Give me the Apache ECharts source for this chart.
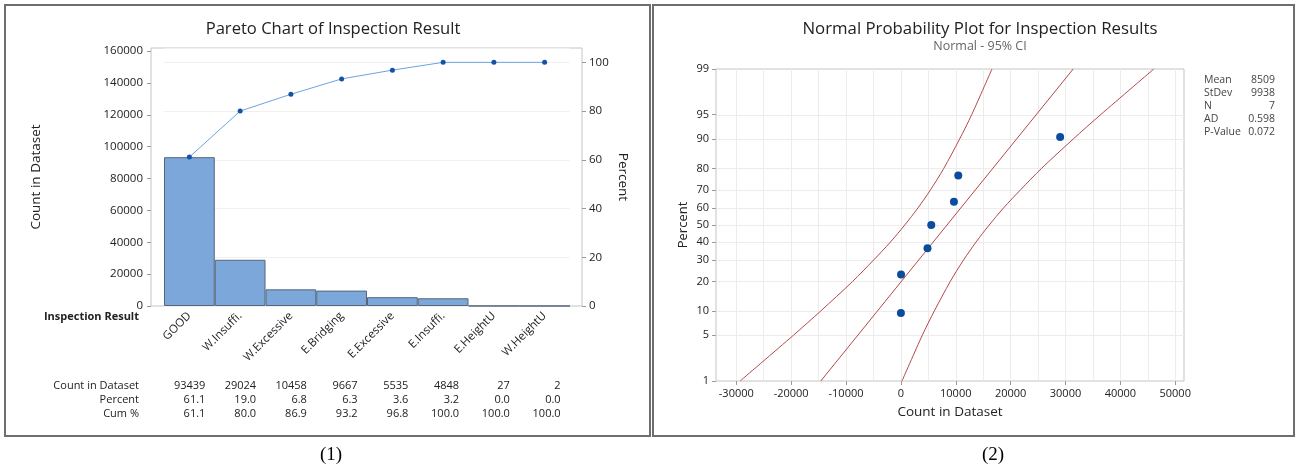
<!doctype html>
<html>
<head>
<meta charset="utf-8">
<title>Inspection Result</title>
<script src="https://cdn.jsdelivr.net/npm/echarts@6/dist/echarts.min.js"></script>
<style>
  html, body { margin: 0; padding: 0; background: #fff; }
  #main { width: 1297px; height: 467px; }
</style>
</head>
<body>
<div id="main"></div>
<script>
// Pareto data
var categories = ['GOOD', 'W.Insuffi.', 'W.Excessive', 'E.Bridging', 'E.Excessive', 'E.Insuffi.', 'E.HeightU', 'W.HeightU'];
var counts = [93439, 29024, 10458, 9667, 5535, 4848, 27, 2];
var percents = ['61.1', '19.0', '6.8', '6.3', '3.6', '3.2', '0.0', '0.0'];
var cumPercents = [61.1, 80.0, 86.9, 93.2, 96.8, 100.0, 100.0, 100.0];
var tableRows = ['Count in Dataset', 'Percent', 'Cum %'];

// normal probability plot data
var probX = [2, 27, 4848, 5535, 9667, 10458, 29024];
var probPct = [9.5, 23.0, 36.5, 50.0, 63.5, 77.0, 90.5];
var fitX = [-14600, 31400];
var fitPct = [1, 99];
var ciPct = [1, 5, 10, 20, 30, 40, 50, 60, 70, 80, 90, 95, 99];
var ciLower = [-29300, -19600, -14600, -8800, -5000, -1900, 700, 3100, 5400, 7800, 10700, 12900, 16600];
var ciUpper = [200, 3900, 6100, 9000, 11400, 13700, 16100, 18700, 21800, 25600, 31400, 36400, 46100];
var pctTicks = [1, 5, 10, 20, 30, 40, 50, 60, 70, 80, 90, 95, 99];
var xTicks = [-30000, -20000, -10000, 0, 10000, 20000, 30000, 40000, 50000];
var statNames = ['Mean', 'StDev', 'N', 'AD', 'P-Value'];
var statValues = ['8509', '9938', '7', '0.598', '0.072'];

var FONT = '"Open Sans", "Noto Sans", sans-serif';
var TXT = '#222';
var RED = '#b5484a';

// inverse normal cdf, used as the probability axis scale
function probit(p) {
  var a = [-39.69683028665376, 220.9460984245205, -275.9285104469687, 138.3577518672690, -30.66479806614716, 2.506628277459239];
  var b = [-54.47609879822406, 161.5858368580409, -155.6989798598866, 66.80131188771972, -13.28068155288572];
  var c = [-0.007784894002430293, -0.3223964580411365, -2.400758277161838, -2.549732539343734, 4.374664141464968, 2.938163982698783];
  var d = [0.007784695709041462, 0.3224671290700398, 2.445134137142996, 3.754408661907416];
  var pl = 0.02425, q, r;
  if (p < pl) {
    q = Math.sqrt(-2 * Math.log(p));
    return (((((c[0] * q + c[1]) * q + c[2]) * q + c[3]) * q + c[4]) * q + c[5]) / ((((d[0] * q + d[1]) * q + d[2]) * q + d[3]) * q + 1);
  }
  if (p > 1 - pl) {
    q = Math.sqrt(-2 * Math.log(1 - p));
    return -(((((c[0] * q + c[1]) * q + c[2]) * q + c[3]) * q + c[4]) * q + c[5]) / ((((d[0] * q + d[1]) * q + d[2]) * q + d[3]) * q + 1);
  }
  q = p - 0.5;
  r = q * q;
  return (((((a[0] * r + a[1]) * r + a[2]) * r + a[3]) * r + a[4]) * r + a[5]) * q / (((((b[0] * r + b[1]) * r + b[2]) * r + b[3]) * r + b[4]) * r + 1);
}
function z(pct) { return probit(pct / 100); }
function pairs(xs, ps) {
  return xs.map(function (x, i) { return [x, z(ps[i])]; });
}
function plain(v) { return String(v); }

var total = counts.reduce(function (s, v) { return s + v; }, 0);
var countMax = 162000;
var pctMax = countMax / total * 100;

// table rows under the pareto chart (row titles are drawn as graphic text)
function tableAxis(values, offset) {
  return {
    type: 'category', gridIndex: 0, position: 'bottom', offset: offset,
    data: values,
    axisLine: { show: false, onZero: false }, axisTick: { show: false },
    axisLabel: {
      interval: 0, margin: 0, verticalAlign: 'middle', fontSize: 11, color: TXT, fontFamily: FONT,
      formatter: function (v) { return '{v|' + v + '}'; },
      rich: { v: { width: 32, align: 'right', fontSize: 11, color: TXT, fontFamily: FONT } }
    }
  };
}

var gridX = [];
xTicks.forEach(function (t) { gridX.push(t); if (t < 50000) gridX.push(t + 5000); });
var gridLines = gridX.map(function (v) { return { xAxis: v }; })
  .concat(pctTicks.map(function (p) { return { yAxis: z(p) }; }));

var chart = echarts.init(document.getElementById('main'));
chart.setOption({
  animation: false,
  textStyle: { fontFamily: FONT },
  title: [
    { text: 'Pareto Chart of Inspection Result', left: 328, top: 16, textAlign: 'center',
      textStyle: { fontSize: 16.6, fontWeight: 'normal', color: '#222', fontFamily: FONT } },
    { text: 'Normal Probability Plot for Inspection Results', subtext: 'Normal - 95% CI',
      left: 975, top: 16, textAlign: 'center', itemGap: 2,
      textStyle: { fontSize: 16.8, fontWeight: 'normal', color: '#222', fontFamily: FONT },
      subtextStyle: { fontSize: 12.5, color: '#666', fontFamily: FONT } }
  ],
  grid: [
    { left: 164, width: 406, top: 48, height: 258 },
    { left: 151, width: 431, top: 48, height: 258, show: true, borderColor: '#c4c4c4', borderWidth: 1 },
    { left: 716, width: 468, top: 69, height: 312, show: true, borderColor: '#c4c4c4', borderWidth: 1 }
  ],
  xAxis: [
    {
      type: 'category', gridIndex: 0, data: categories,
      name: 'Inspection Result', nameLocation: 'start', nameGap: 25, nameMoveOverlap: false,
      nameTextStyle: { color: TXT, fontSize: 11, fontWeight: 'bold', fontFamily: FONT, verticalAlign: 'top', padding: [5, 0, 0, 0] },
      axisLine: { show: false, onZero: false },
      axisTick: { alignWithLabel: true, length: 4, lineStyle: { color: '#999' } },
      axisLabel: { interval: 0, rotate: 45, margin: 8, fontSize: 11.5, color: TXT, fontFamily: FONT }
    },
    tableAxis(counts, 80),
    tableAxis(percents, 94),
    tableAxis(cumPercents.map(function (v) { return v.toFixed(1); }), 108),
    { type: 'value', gridIndex: 1, show: false, min: 0, max: 1 },
    {
      type: 'value', gridIndex: 2, min: -33700, max: 51600,
      name: 'Count in Dataset', nameLocation: 'middle', nameGap: 24, nameMoveOverlap: false,
      nameTextStyle: { color: TXT, fontSize: 13.5, fontFamily: FONT },
      axisLine: { show: false, onZero: false },
      axisTick: { customValues: xTicks, length: 4, lineStyle: { color: '#999' } },
      axisLabel: { customValues: xTicks, formatter: plain, fontSize: 11, color: TXT, fontFamily: FONT, margin: 7 },
      splitLine: { show: false }
    }
  ],
  yAxis: [
    {
      type: 'value', gridIndex: 0, min: 0, max: countMax, interval: 20000, offset: 13,
      name: 'Count in Dataset', nameLocation: 'middle', nameGap: 108, nameMoveOverlap: false,
      nameTextStyle: { color: TXT, fontSize: 13.5, fontFamily: FONT },
      axisLine: { show: false, onZero: false },
      axisTick: { show: true, length: 4, lineStyle: { color: '#999' } },
      axisLabel: { showMaxLabel: false, formatter: plain, fontSize: 11.5, color: TXT, fontFamily: FONT, margin: 8 },
      splitLine: { show: false }
    },
    {
      type: 'value', gridIndex: 0, position: 'right', min: 0, max: pctMax, interval: 20, offset: 12,
      name: 'Percent', nameLocation: 'middle', nameGap: 34, nameRotate: -90, nameMoveOverlap: false,
      nameTextStyle: { color: TXT, fontSize: 13.5, fontFamily: FONT },
      axisLine: { show: false, onZero: false },
      axisTick: { show: true, length: 4, lineStyle: { color: '#999' } },
      axisLabel: { showMaxLabel: false, fontSize: 11.5, color: TXT, fontFamily: FONT, margin: 7 },
      splitLine: { show: true, lineStyle: { color: '#f0f0f0' } }
    },
    { type: 'value', gridIndex: 1, show: false, min: 0, max: 1 },
    {
      type: 'value', gridIndex: 2, min: z(1), max: z(99),
      name: 'Percent', nameLocation: 'middle', nameGap: 26, nameMoveOverlap: false,
      nameTextStyle: { color: TXT, fontSize: 13, fontFamily: FONT },
      axisLine: { show: false, onZero: false },
      axisTick: { customValues: pctTicks.map(z), length: 4, lineStyle: { color: '#999' } },
      axisLabel: {
        customValues: pctTicks.map(z), fontSize: 11, color: TXT, fontFamily: FONT, margin: 7,
        formatter: function (v) {
          for (var i = 0; i < pctTicks.length; i++) {
            if (Math.abs(z(pctTicks[i]) - v) < 1e-6) return String(pctTicks[i]);
          }
          return '';
        }
      },
      splitLine: { show: false }
    }
  ],
  series: [
    {
      type: 'bar', xAxisIndex: 0, yAxisIndex: 0, data: counts,
      barCategoryGap: '0%',
      itemStyle: { color: '#7ba7da', borderColor: '#56657a', borderWidth: 1 }
    },
    {
      type: 'line', xAxisIndex: 0, yAxisIndex: 1, data: cumPercents,
      symbol: 'circle', symbolSize: 5,
      lineStyle: { color: '#6aa3df', width: 1 },
      itemStyle: { color: '#1552a5' }
    },
    {
      type: 'line', xAxisIndex: 5, yAxisIndex: 3, data: [], z: 0, silent: true,
      markLine: {
        silent: true, z: 0, symbol: 'none', label: { show: false },
        lineStyle: { color: '#ececec', width: 1, type: 'solid' },
        emphasis: { disabled: true },
        data: gridLines
      }
    },
    {
      type: 'line', xAxisIndex: 5, yAxisIndex: 3, data: pairs(ciLower, ciPct), z: 3,
      smooth: 0.3, symbol: 'none', lineStyle: { color: RED, width: 1 }
    },
    {
      type: 'line', xAxisIndex: 5, yAxisIndex: 3, data: pairs(fitX, fitPct), z: 3,
      symbol: 'none', lineStyle: { color: RED, width: 1 }
    },
    {
      type: 'line', xAxisIndex: 5, yAxisIndex: 3, data: pairs(ciUpper, ciPct), z: 3,
      smooth: 0.3, symbol: 'none', lineStyle: { color: RED, width: 1 }
    },
    {
      type: 'scatter', xAxisIndex: 5, yAxisIndex: 3, data: pairs(probX, probPct),
      symbolSize: 8, itemStyle: { color: '#0b4d9c', opacity: 1 }, z: 5
    }
  ],
  graphic: [
    { type: 'rect', shape: { x: 5, y: 5, width: 645, height: 431 }, style: { fill: 'none', stroke: '#6e6e6e', lineWidth: 2 } },
    { type: 'rect', shape: { x: 653, y: 5, width: 641, height: 431 }, style: { fill: 'none', stroke: '#6e6e6e', lineWidth: 2 } },
    { type: 'text', x: 331, y: 455, style: { text: '(1)', fontSize: 19, fontFamily: '"Liberation Serif", serif', fill: '#000', align: 'center', verticalAlign: 'middle' } },
    { type: 'text', x: 993, y: 455, style: { text: '(2)', fontSize: 19, fontFamily: '"Liberation Serif", serif', fill: '#000', align: 'center', verticalAlign: 'middle' } }
  ].concat(tableRows.map(function (n, i) {
    return { type: 'text', x: 139, y: 386 + i * 14, style: { text: n, fontSize: 11, fontFamily: FONT, fill: TXT, align: 'right', verticalAlign: 'middle' } };
  })).concat(statNames.map(function (n, i) {
    return { type: 'text', x: 1204, y: 80.5 + i * 12.8, style: { text: n, fontSize: 10.5, fontFamily: FONT, fill: '#444', align: 'left', verticalAlign: 'middle' } };
  })).concat(statValues.map(function (v, i) {
    return { type: 'text', x: 1275, y: 80.5 + i * 12.8, style: { text: v, fontSize: 10.5, fontFamily: FONT, fill: '#444', align: 'right', verticalAlign: 'middle' } };
  }))
});
</script>
</body>
</html>
